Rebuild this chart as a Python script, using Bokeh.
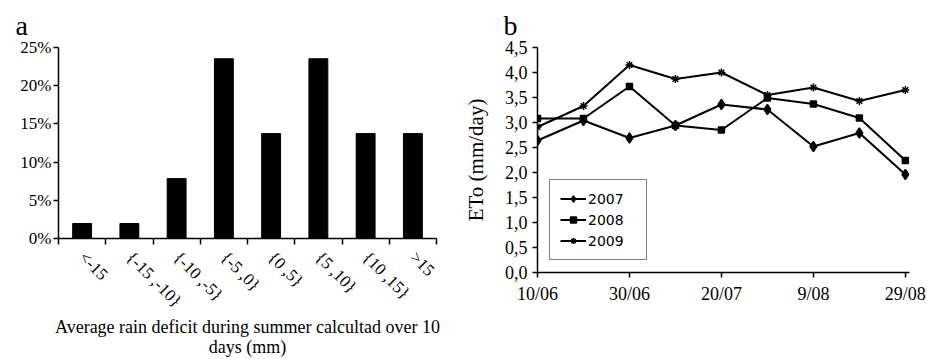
import math
import datetime as dt
from bokeh.plotting import figure
from bokeh.layouts import row, column
from bokeh.models import FixedTicker, CustomJSTickFormatter
from bokeh.embed import file_html
from bokeh.resources import INLINE

# ---------- data: panel a ----------
deficit_classes = ["<-15", "{-15 ,-10}", "{-10 ,-5}", "{-5 ,0}", "{0 ,5}", "{5 ,10}", "{10 ,15}", ">15"]
deficit_share = [1.96, 1.96, 7.84, 23.53, 13.73, 23.53, 13.73, 13.73]
share_ticks = [0, 5, 10, 15, 20, 25]

# ---------- data: panel b ----------
dates = ["10/06", "20/06", "30/06", "10/07", "20/07", "30/07", "09/08", "19/08", "29/08"]
eto_2007 = [2.64, 3.04, 2.69, 2.94, 3.36, 3.26, 2.52, 2.79, 1.96]
eto_2008 = [3.08, 3.08, 3.72, 2.94, 2.85, 3.49, 3.37, 3.09, 2.24]
eto_2009 = [2.91, 3.33, 4.15, 3.87, 4.00, 3.55, 3.70, 3.43, 3.65]
date_tick_labels = ["10/06", "30/06", "20/07", "9/08", "29/08"]
eto_ticks = [0.0, 0.5, 1.0, 1.5, 2.0, 2.5, 3.0, 3.5, 4.0, 4.5]

SERIF = "Liberation Serif"


def day_of(s):
    d, m = s.split("/")
    return dt.date(2000, int(m), int(d))


start = day_of(dates[0])
days = [(day_of(s) - start).days for s in dates]
tick_days = [(day_of(s) - start).days for s in date_tick_labels]


def style(p):
    p.xgrid.grid_line_color = None
    p.ygrid.grid_line_color = None
    p.outline_line_color = None
    p.background_fill_color = "white"
    p.border_fill_color = "white"
    for ax in (p.xaxis, p.yaxis):
        ax.axis_line_color = "black"
        ax.axis_line_width = 1.5
        ax.major_tick_line_color = "black"
        ax.major_tick_line_width = 1.5
        ax.major_tick_in = 0
        ax.major_tick_out = 5
        ax.minor_tick_line_color = None
        ax.major_label_text_font = SERIF
        ax.major_label_text_color = "black"
        ax.axis_label_text_font = SERIF
        ax.axis_label_text_font_style = "normal"
        ax.axis_label_text_color = "black"
    p.title.text_font = SERIF
    p.title.text_font_size = "28px"
    p.title.text_font_style = "normal"
    p.title.text_color = "black"
    p.title.align = "left"
    p.title.standoff = 13


# ---------- panel a ----------
pa = figure(width=460, height=359, x_range=(0, len(deficit_classes)), y_range=(0, 25),
            output_backend="svg", toolbar_location=None, title="a",
            min_border_left=58, min_border_right=24, min_border_top=47, min_border_bottom=121)
style(pa)
pa.title.offset = -43
centers = [i + 0.5 for i in range(len(deficit_classes))]
pa.vbar(x=centers, top=deficit_share, width=0.4, fill_color="black", line_color="black")

pa.xaxis.ticker = FixedTicker(ticks=centers, minor_ticks=list(range(len(deficit_classes) + 1)))
pa.xaxis.formatter = CustomJSTickFormatter(args=dict(labels=deficit_classes),
                                           code="return labels[Math.floor(tick)];")
pa.xaxis.major_tick_line_color = None
pa.xaxis.minor_tick_line_color = "black"
pa.xaxis.minor_tick_line_width = 1.5
pa.xaxis.minor_tick_in = 0
pa.xaxis.minor_tick_out = 6
pa.xaxis.major_label_orientation = -math.pi / 4
pa.xaxis.major_label_text_font_size = "17px"
pa.xaxis.major_label_standoff = 10
pa.xaxis.axis_label = "Average rain deficit during summer calcultad over 10\ndays (mm)"
pa.xaxis.axis_label_text_font_size = "18px"
pa.xaxis.axis_label_text_line_height = 1.0
pa.xaxis.axis_label_standoff = -4

pa.yaxis.ticker = FixedTicker(ticks=share_ticks)
pa.yaxis.formatter = CustomJSTickFormatter(code="return tick.toFixed(0) + '%';")
pa.yaxis.major_label_text_font_size = "17px"
pa.yaxis.major_label_standoff = 2

# ---------- panel b ----------
pb = figure(width=467, height=359, x_range=(0, 80.9), y_range=(0, 4.5),
            output_backend="svg", toolbar_location=None, title="b",
            min_border_left=77, min_border_right=18, min_border_top=47, min_border_bottom=87)
style(pb)
pb.title.offset = -34

series = [("2007", eto_2007, "diamond", 10), ("2008", eto_2008, "square", 6), ("2009", eto_2009, "asterisk", 8)]
for name, vals, marker, size in series:
    pb.line(days, vals, line_color="black", line_width=2, legend_label=name)
    pb.scatter(days, vals, marker=marker, size=size, fill_color="black", line_color="black",
               line_width=1.5, legend_label=name)

pb.xaxis.ticker = FixedTicker(ticks=tick_days)
pb.xaxis.formatter = CustomJSTickFormatter(args=dict(labels=date_tick_labels, tick_vals=tick_days),
                                           code="return labels[tick_vals.indexOf(tick)];")
pb.xaxis.major_label_text_font_size = "18px"
pb.xaxis.major_label_standoff = 6

pb.yaxis.ticker = FixedTicker(ticks=eto_ticks)
pb.yaxis.formatter = CustomJSTickFormatter(code="return tick.toFixed(1).replace('.', ',');")
pb.yaxis.major_label_text_font_size = "18px"
pb.yaxis.major_label_standoff = 5
pb.yaxis.axis_label = "ETo (mm/day)"
pb.yaxis.axis_label_text_font_size = "21px"
pb.yaxis.axis_label_standoff = 14

lg = pb.legend[0]
lg.location = (12, 12)
lg.border_line_color = "black"
lg.border_line_width = 1.5
lg.background_fill_color = "white"
lg.background_fill_alpha = 1
lg.padding = 10
lg.spacing = 4
lg.margin = 0
lg.glyph_width = 26
lg.glyph_height = 15
lg.label_standoff = 2
lg.label_height = 17
lg.label_width = 48
lg.label_text_font = "DejaVu Sans"
lg.label_text_font_size = "14px"
lg.label_text_color = "black"

layout = row(column(pa), column(pb))
open("out.html", "w").write(file_html(layout, INLINE))
